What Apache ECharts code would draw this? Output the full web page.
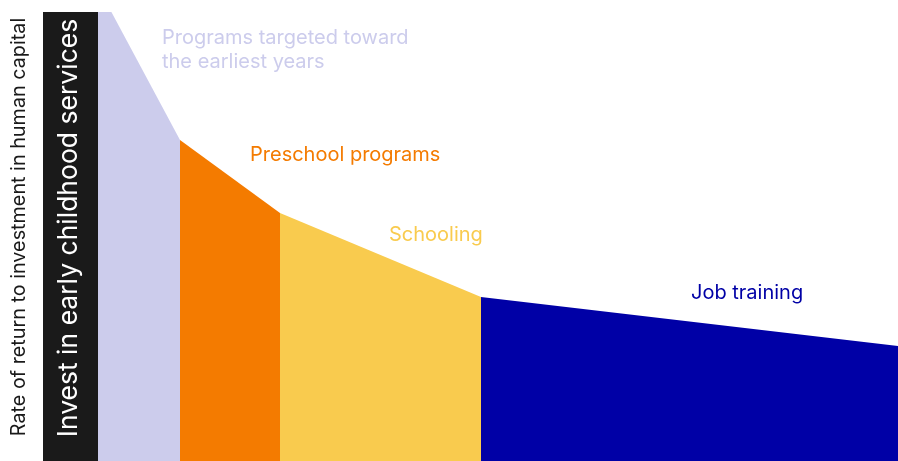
<!DOCTYPE html>
<html><head><meta charset="utf-8">
<script src="https://cdn.jsdelivr.net/npm/echarts@6/dist/echarts.min.js"></script>
<style>html,body{margin:0;padding:0;background:#fff}#c{width:898px;height:461px}</style>
</head><body><div id="c"></div>
<script>
// Segment boundaries along the age axis (arbitrary units) and rate of return at each boundary
const stages = ['Programs targeted toward\nthe earliest years', 'Preschool programs', 'Schooling', 'Job training'];
const boundaries = [0, 82, 182, 383, 800];
const returns = [474, 321, 248, 164, 115];
const colors = ['#CCCCEC', '#F47B00', '#F9CB4E', '#0000A6'];
const yAxisTitle = 'Rate of return to investment in human capital';
const barText = 'Invest in early childhood services';

const FONT = 'Inter, "DejaVu Sans", sans-serif';
const chart = echarts.init(document.getElementById('c'));
const series = stages.map((s, i) => ({
  type: 'line',
  name: s,
  data: [[boundaries[i], returns[i]], [boundaries[i + 1], returns[i + 1]]],
  showSymbol: false,
  symbol: 'none',
  lineStyle: { width: 0 },
  areaStyle: { color: colors[i], opacity: 1 },
  clip: true,
  silent: true
}));
const labelPos = [[162, 50], [250, 155], [389, 235], [691, 293]];
chart.setOption({
  animation: false,
  grid: { left: 98, right: 0, top: 12, bottom: 0, outerBoundsMode: 'none', containLabel: false },
  xAxis: { type: 'value', min: 0, max: 800, show: false },
  yAxis: { type: 'value', min: 0, max: 449, show: false },
  series: series,
  graphic: [
    { type: 'rect', shape: { x: 43, y: 12, width: 55, height: 449 }, style: { fill: '#1A1A1A' } },
    { type: 'text', x: 69.5, y: 228, rotation: Math.PI / 2,
      style: { text: barText, fill: '#fff', font: '26.5px ' + FONT, align: 'center', verticalAlign: 'middle' } },
    { type: 'text', x: 19, y: 227, rotation: Math.PI / 2,
      style: { text: yAxisTitle, fill: '#1a1a1a', font: '19.8px ' + FONT, align: 'center', verticalAlign: 'middle' } }
  ].concat(stages.map((s, i) => ({
    type: 'text', x: labelPos[i][0], y: labelPos[i][1],
    style: { text: s, fill: colors[i], font: '20px ' + FONT, align: 'left', verticalAlign: 'middle', lineHeight: 24 }
  })))
});
</script></body></html>
